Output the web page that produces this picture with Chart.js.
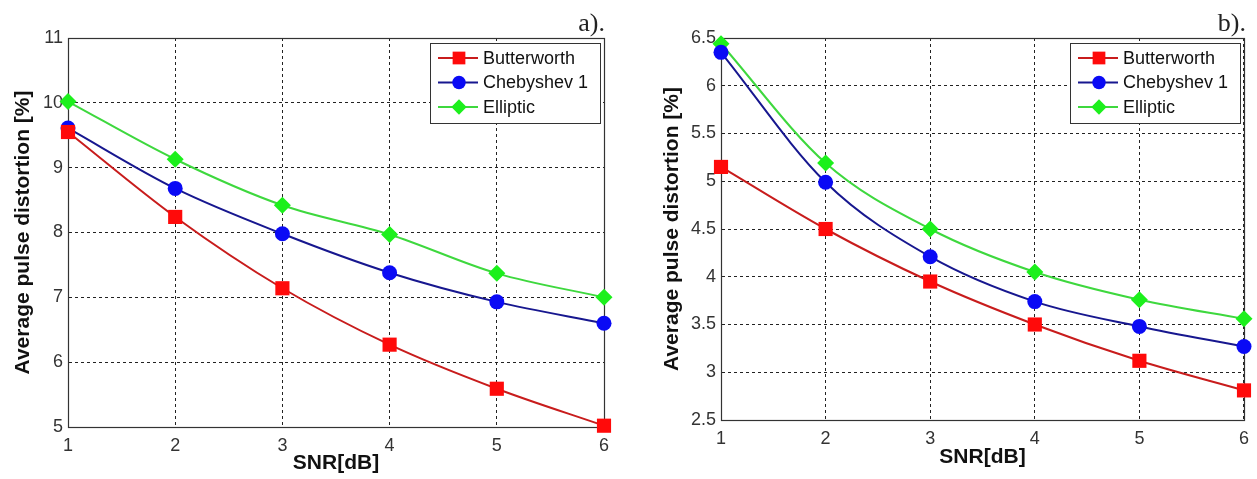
<!DOCTYPE html>
<html>
<head>
<meta charset="utf-8">
<script src="https://cdn.jsdelivr.net/npm/chart.js@4.4.0/dist/chart.umd.min.js"></script>
<style>
  body { margin: 0; background: #fff; width: 1257px; height: 479px; overflow: hidden; position: relative; }
  .panel { position: absolute; top: 0; }
  .tag { position: absolute; top: 8px; font-family: "Liberation Serif", "Times New Roman", serif; font-size: 26px; line-height: 30px; color: #222; }
</style>
</head>
<body>
<div class="panel" style="left:0"><canvas id="chartA" width="620" height="479"></canvas></div>
<div class="panel" style="left:640px"><canvas id="chartB" width="617" height="479"></canvas></div>
<div class="tag" style="right:652px">a).</div>
<div class="tag" style="right:11px">b).</div>
<script>
const snr = [1, 2, 3, 4, 5, 6];
const seriesNames = ['Butterworth', 'Chebyshev 1', 'Elliptic'];

// panel a)
const butterA = [9.55, 8.24, 7.14, 6.27, 5.59, 5.02];
const chebyA = [9.61, 8.68, 7.98, 7.38, 6.93, 6.60];
const ellipA = [10.02, 9.13, 8.42, 7.97, 7.37, 7.00];
const yTicksA = [5, 6, 7, 8, 9, 10, 11];

// panel b)
const butterB = [5.15, 4.50, 3.95, 3.50, 3.12, 2.81];
const chebyB = [6.35, 4.99, 4.21, 3.74, 3.48, 3.27];
const ellipB = [6.44, 5.19, 4.50, 4.05, 3.76, 3.56];
const yTicksB = [2.5, 3, 3.5, 4, 4.5, 5, 5.5, 6, 6.5];

Chart.defaults.font.family = '"Liberation Sans", Arial, sans-serif';

const looks = [
    { line: '#c81c1c', fill: '#ff0a0a', style: 'rect', r: 10 },
    { line: '#17178f', fill: '#0a0af5', style: 'circle', r: 7.5 },
    { line: '#3ed83e', fill: '#1cf01c', style: 'rectRot', r: 8.5 },
];

function drawMarker(ctx, style, x, y, r, color) {
    ctx.fillStyle = color;
    ctx.beginPath();
    if (style === 'rect') {
        const s = r * Math.SQRT1_2;
        ctx.rect(x - s, y - s, 2 * s, 2 * s);
    } else if (style === 'circle') {
        ctx.arc(x, y, r, 0, Math.PI * 2);
    } else {
        ctx.moveTo(x, y - r);
        ctx.lineTo(x + r, y);
        ctx.lineTo(x, y + r);
        ctx.lineTo(x - r, y);
        ctx.closePath();
    }
    ctx.fill();
}

// solid box round the plot + matlab style legend in the top right corner
const frameAndLegend = {
    id: 'frameAndLegend',
    beforeDatasetsDraw(chart) {
        const { ctx, chartArea: ca } = chart;
        ctx.save();
        ctx.strokeStyle = '#333';
        ctx.lineWidth = 1.2;
        ctx.strokeRect(Math.round(ca.left) + 0.5, Math.round(ca.top) + 0.5,
            Math.round(ca.right - ca.left), Math.round(ca.bottom - ca.top));
        ctx.restore();
    },
    afterDatasetsDraw(chart) {
        const { ctx, chartArea: ca } = chart;
        const sets = chart.data.datasets;
        ctx.save();
        ctx.font = '18px "Liberation Sans", Arial, sans-serif';
        const textW = Math.max(...sets.map(d => ctx.measureText(d.label).width));
        const w = Math.round(53 + textW + 12);
        const h = 80;
        const x0 = Math.round(ca.right - 4 - w);
        const y0 = Math.round(ca.top + 5);
        ctx.fillStyle = '#fff';
        ctx.fillRect(x0, y0, w, h);
        ctx.strokeStyle = '#333';
        ctx.lineWidth = 1;
        ctx.strokeRect(x0 + 0.5, y0 + 0.5, w, h);
        sets.forEach((d, i) => {
            const cy = y0 + 15 + i * 24.5;
            ctx.strokeStyle = d.borderColor;
            ctx.lineWidth = 2;
            ctx.beginPath();
            ctx.moveTo(x0 + 8, cy);
            ctx.lineTo(x0 + 48, cy);
            ctx.stroke();
            drawMarker(ctx, d.pointStyle, x0 + 29, cy, d.pointRadius * 0.9, d.pointBackgroundColor);
            ctx.fillStyle = '#111';
            ctx.textBaseline = 'middle';
            ctx.fillText(d.label, x0 + 53, cy + 1);
        });
        ctx.restore();
    }
};

function makeChart(id, series, yTicks, L) {
    const datasets = series.map((vals, i) => ({
        label: seriesNames[i],
        data: snr.map((x, j) => ({ x, y: vals[j] })),
        borderColor: looks[i].line,
        borderWidth: 2,
        pointStyle: looks[i].style,
        pointRadius: looks[i].r,
        pointBackgroundColor: looks[i].fill,
        pointBorderColor: looks[i].fill,
        pointBorderWidth: 0,
        cubicInterpolationMode: 'monotone',
        clip: false,
    }));

    return new Chart(document.getElementById(id), {
        type: 'line',
        data: { datasets },
        options: {
            responsive: false,
            animation: false,
            layout: { padding: { left: 0, right: L.padRight, top: 38, bottom: 0 } },
            plugins: { legend: { display: false }, tooltip: { enabled: false } },
            scales: {
                x: {
                    type: 'linear',
                    min: snr[0],
                    max: snr[snr.length - 1],
                    afterBuildTicks: (s) => { s.ticks = snr.map(v => ({ value: v })); },
                    afterFit: (s) => { s.height = L.xHeight; },
                    grid: { color: '#222', lineWidth: 1, drawTicks: false },
                    border: { display: true, color: '#333', dash: [3, 3] },
                    ticks: { color: '#333', font: { size: 18 }, padding: 8, maxRotation: 0, callback: (v) => String(v) },
                    title: {
                        display: true, text: 'SNR[dB]', color: '#111',
                        font: { size: 21, weight: 'bold' },
                        padding: { top: 0, bottom: L.xTitlePad },
                    },
                },
                y: {
                    type: 'linear',
                    min: yTicks[0],
                    max: yTicks[yTicks.length - 1],
                    afterBuildTicks: (s) => { s.ticks = yTicks.map(v => ({ value: v })); },
                    afterFit: (s) => { s.width = L.yWidth; },
                    grid: { color: '#222', lineWidth: 1, drawTicks: false },
                    border: { display: true, color: '#333', dash: [3, 3] },
                    ticks: { color: '#333', font: { size: 18 }, padding: 5, callback: (v) => String(v) },
                    title: {
                        display: true, text: 'Average pulse distortion [%]', color: '#111',
                        font: { size: 21, weight: 'bold' },
                        padding: { top: L.yTitlePad, bottom: 0 },
                    },
                },
            },
        },
        plugins: [frameAndLegend],
    });
}

makeChart('chartA', [butterA, chebyA, ellipA], yTicksA,
    { yWidth: 68, padRight: 16, xHeight: 52, yTitlePad: 11, xTitlePad: 3 });
makeChart('chartB', [butterB, chebyB, ellipB], yTicksB,
    { yWidth: 81, padRight: 10, xHeight: 59, yTitlePad: 20, xTitlePad: 9 });
</script>
</body>
</html>
